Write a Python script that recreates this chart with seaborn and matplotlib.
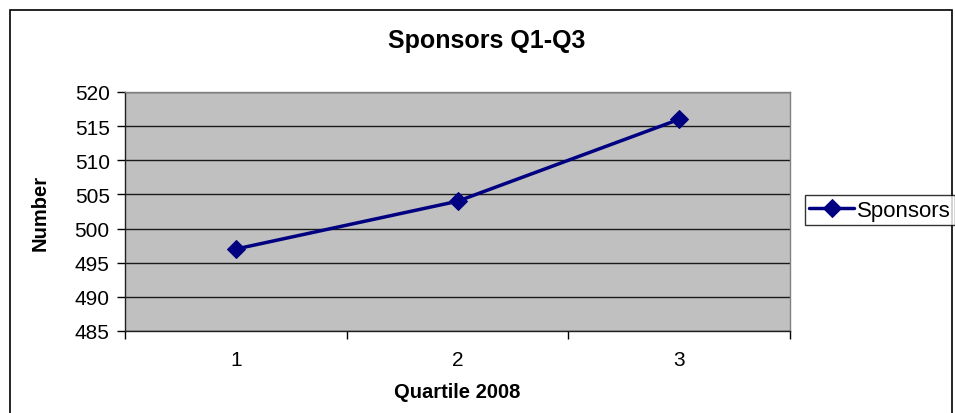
import matplotlib
matplotlib.use('Agg')
import matplotlib.pyplot as plt
import seaborn as sns
import pandas as pd
from matplotlib.patches import Rectangle

# data
quarters = [1, 2, 3]
sponsors = [497, 504, 516]
y_ticks = [485, 490, 495, 500, 505, 510, 515, 520]

df = pd.DataFrame({'Quartile': quarters, 'Sponsors': sponsors})

sns.set_style("white")
plt.rcParams['font.family'] = ['Liberation Sans', 'DejaVu Sans']
plt.rcParams['text.color'] = 'black'
plt.rcParams['axes.labelcolor'] = 'black'
plt.rcParams['xtick.color'] = 'black'
plt.rcParams['ytick.color'] = 'black'

fig = plt.figure(figsize=(9.55, 4.14), dpi=100)
ax = fig.add_axes([125 / 955, 1 - 332 / 414, 665 / 955, 239 / 414])
ax.set_facecolor('#C0C0C0')

# gridlines
ax.set_axisbelow(True)
ax.yaxis.grid(True, color='#1a1a1a', linewidth=1)
ax.xaxis.grid(False)

sns.lineplot(data=df, x='Quartile', y='Sponsors', ax=ax, color='#000080',
             linewidth=2.5, marker='D', markersize=9, markeredgecolor='#000080',
             label='Sponsors', legend=False)

ax.set_xlim(0.5, 3.5)
ax.set_ylim(485, 520)
ax.set_yticks(y_ticks)
ax.set_yticklabels([str(v) for v in y_ticks], fontsize=15)

# category boundaries as tick marks, labels centered
ax.set_xticks([0.5, 1.5, 2.5, 3.5])
ax.set_xticklabels([])
ax.set_xticks(quarters, minor=True)
ax.set_xticklabels([str(q) for q in quarters], minor=True, fontsize=15)
ax.tick_params(axis='x', which='major', direction='out', length=6, width=1, color='black', bottom=True)
ax.tick_params(axis='x', which='minor', length=0, pad=14)
ax.tick_params(axis='y', direction='out', length=6, width=1, color='black', left=True, pad=5)

for side in ['top', 'right']:
    ax.spines[side].set_color('#808080')
    ax.spines[side].set_linewidth(1)
for side in ['left', 'bottom']:
    ax.spines[side].set_color('#202020')
    ax.spines[side].set_linewidth(1)

ax.set_xlabel('Quartile 2008', fontsize=14.5, fontweight='bold')
ax.set_ylabel('Number', fontsize=14.5, fontweight='bold')
ax.xaxis.set_label_coords(0.5, -0.215)
ax.yaxis.set_label_coords(-0.113, 0.5)

fig.text(487 / 955, 1 - 41 / 414, 'Sponsors Q1-Q3', ha='center', va='center',
         fontsize=18, fontweight='bold')

# legend
handles, labels = ax.get_legend_handles_labels()
leg = fig.legend(handles, labels, loc='center left',
                 bbox_to_anchor=(805 / 955, 1 - 211 / 414), fontsize=16,
                 frameon=True, fancybox=False, borderpad=0.2,
                 handlelength=2.0, handletextpad=0.15, borderaxespad=0)
leg.get_frame().set_edgecolor('black')
leg.get_frame().set_linewidth(1)

# outer chart border
fig.patches.append(Rectangle((10 / 955, -0.05), 942 / 955, 1.05 - 11 / 414,
                             transform=fig.transFigure, fill=False,
                             edgecolor='black', linewidth=1.2))

fig.savefig('out.png', dpi=100, facecolor='white')
